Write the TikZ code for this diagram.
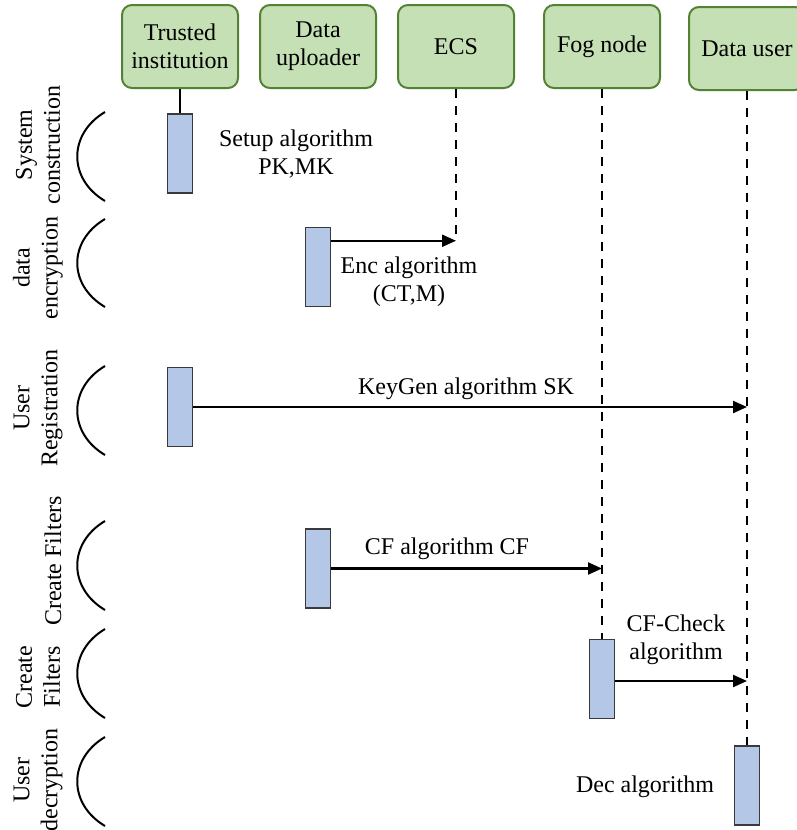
\documentclass[tikz,border=0pt]{standalone}
\usepackage{fontspec}
\setmainfont{Liberation Serif}
\usetikzlibrary{arrows.meta}

\definecolor{headfill}{HTML}{C5E0B4}
\definecolor{headline}{HTML}{548235}
\definecolor{barfill}{HTML}{B4C7E7}
\definecolor{barline}{HTML}{3A3A3A}

\tikzset{
  head/.style={draw=headline, fill=headfill, line width=2pt, rounded corners=10pt,
    minimum width=116pt, minimum height=83pt, align=center, inner sep=0pt},
  bar/.style={draw=barline, fill=barfill, line width=1.5pt,
    minimum width=25pt, minimum height=79pt, inner sep=0pt},
  life/.style={line width=2pt, dash pattern=on 9pt off 8pt},
  msg/.style={line width=2.2pt, -{Triangle[length=14pt, width=12pt]}},
  phase/.style={rotate=90, align=center},
  brace/.style={line width=2pt},
}

\begin{document}
\begin{tikzpicture}[x=1pt, y=-1pt, font=\fontsize{24}{28}\selectfont]
\useasboundingbox (0,0) rectangle (796,830);

% participants
\node[head] (ti) at (180,46.5) {Trusted\\institution};
\node[head] (du) at (318,46.5) {Data\\uploader};
\node[head] (ecs) at (456,46.5) {ECS};
\node[head] (fog) at (602,46.5) {Fog node};
\node[head] (user) at (747,48.5) {Data user};

% activation bars
\node[bar] (b1) at (ti |- 0,153.5) {};
\node[bar] (b2) at (du |- 0,267) {};
\node[bar] (b3) at (ti |- 0,407) {};
\node[bar] (b4) at (du |- 0,568.5) {};
\node[bar] (b5) at (fog |- 0,679) {};
\node[bar] (b6) at (user |- 0,785.5) {};
\coordinate (enc) at ([yshift=-14pt]b2.north east);

% lifelines
\draw[line width=2pt] (ti.south) -- (b1.north);
\draw[life] (ecs.south) -- (ecs.south |- enc);
\draw[life] (fog.south) -- (b5.north);
\draw[life] (user.south) -- (b6.north);

% messages
\draw[msg] (enc) -- (enc -| ecs);
\draw[msg] (b3.east) -- (b3.east -| user);
\draw[msg] (b4.east) -- (b4.east -| fog);
\draw[msg] ([yshift=-2pt]b5.east) -- ([yshift=-2pt]b5.east -| user);

\node[align=center] (setup) at (296,154) {Setup algorithm\\PK,MK};
\node[align=center] (enctxt) at (409,282) {Enc algorithm\\(CT,M)};
\node (keytxt) at (466,389) {KeyGen algorithm SK};
\node (cftxt) at (447,549) {CF algorithm CF};
\node[align=center] (chktxt) at (676,640) {CF-Check\\algorithm};
\node (dectxt) at (645,787) {Dec algorithm};

% phases
\foreach \ya/\yb in {112/201, 219/307, 366/455, 521/610, 629/718, 737/826}
  \draw[brace] (105,\ya) .. controls (68,\ya+22) and (68,\yb-22) .. (105,\yb);

\node[phase] (ph1) at (38,145) {System\\construction};
\node[phase] (ph2) at (38,268) {data\\encryption};
\node[phase] (ph3) at (38,408) {User\\Registration};
\node[phase] (ph4) at (53,561) {Create Filters};
\node[phase] (ph5) at (38,677) {Create\\Filters};
\node[phase] (ph6) at (38,780) {User\\decryption};
\end{tikzpicture}
\end{document}
